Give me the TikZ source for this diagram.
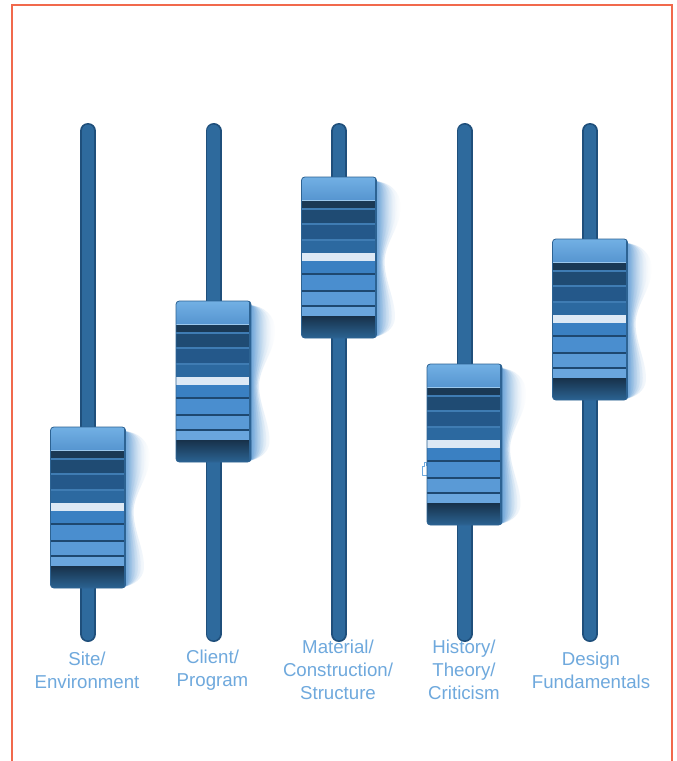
\documentclass[tikz,border=0pt]{standalone}
\usepackage{fontspec}
\setmainfont{Liberation Sans}
\usetikzlibrary{fadings}

% palette
\definecolor{frameRed}{HTML}{F1694C}
\definecolor{trackEdge}{HTML}{1F4F7B}
\definecolor{trackFill}{HTML}{2E6A9D}
\definecolor{labelBlue}{HTML}{6FA9DD}
\definecolor{capTop}{HTML}{72B0E4}
\definecolor{capBot}{HTML}{5594CF}
\definecolor{bandK}{HTML}{1A3955}
\definecolor{bandA}{HTML}{1F4B73}
\definecolor{bandB}{HTML}{24588A}
\definecolor{bandC}{HTML}{2C69A0}
\definecolor{bandW}{HTML}{DDE9F5}
\definecolor{bandD}{HTML}{3A80C2}
\definecolor{bandE}{HTML}{4A8ECF}
\definecolor{bandF}{HTML}{5A9AD6}
\definecolor{bandG}{HTML}{6AA6DE}
\definecolor{sepLight}{HTML}{3F7CB3}
\definecolor{sepDark}{HTML}{1E4870}
\definecolor{baseTop}{HTML}{17314A}
\definecolor{baseBot}{HTML}{2B6392}
\definecolor{knobEdge}{HTML}{2D6393}
\definecolor{glowBlue}{HTML}{5294D2}

\tikzset{
  track/.style={line cap=round},
  caption/.style={font=\fontsize{14pt}{17.25pt}\selectfont, text=labelBlue,
    align=center, inner sep=0pt},
  % a slider knob; origin at the centre of its top edge, 75 x 161 units
  knob/.pic={
    % soft glow on the right-hand side, built from stacked faded layers
    \foreach \s in {1.15,0.95,0.78,0.6,0.42,0.25} {
      \begin{scope}[shift={(37.5,0)}, xscale=\s]
        \fill[glowBlue, opacity=0.26, path fading=east]
          (-2,4) .. controls (12,5) and (21,15) .. (21,30)
          .. controls (21,50) and (7,66) .. (7,85)
          .. controls (7,104) and (17,124) .. (16,142)
          .. controls (15,152) and (7,158) .. (-2,160) -- cycle;
      \end{scope}
    }
    \begin{scope}
      \clip[rounded corners=2.5] (-37.5,0) rectangle (37.5,161);
      \shade[top color=capTop, bottom color=capBot] (-37.5,0) rectangle (37.5,24);
      \fill[capTop!70!white] (-37.5,22.5) rectangle (37.5,24);
      \fill[bandK] (-37.5,24) rectangle (37.5,31);
      \fill[sepLight] (-37.5,31) rectangle (37.5,32.5);
      \fill[bandA] (-37.5,32.5) rectangle (37.5,46);
      \fill[sepLight] (-37.5,46) rectangle (37.5,47.5);
      \fill[bandB] (-37.5,47.5) rectangle (37.5,62);
      \fill[sepLight] (-37.5,62) rectangle (37.5,63.5);
      \fill[bandC] (-37.5,63.5) rectangle (37.5,76);
      \fill[bandW] (-37.5,76) rectangle (37.5,83.5);
      \fill[bandD] (-37.5,83.5) rectangle (37.5,96);
      \fill[sepDark] (-37.5,96) rectangle (37.5,98);
      \fill[bandE] (-37.5,98) rectangle (37.5,113);
      \fill[sepDark] (-37.5,113) rectangle (37.5,115);
      \fill[bandF] (-37.5,115) rectangle (37.5,128);
      \fill[sepDark] (-37.5,128) rectangle (37.5,130);
      \fill[bandG] (-37.5,130) rectangle (37.5,139);
      \shade[top color=baseTop, bottom color=baseBot] (-37.5,139) rectangle (37.5,161);
      \fill[knobEdge] (35.5,0) rectangle (37.5,161);
    \end{scope}
    \draw[knobEdge, line width=0.6pt, rounded corners=2.5] (-37.5,0) rectangle (37.5,161);
  }
}

\begin{document}
\begin{tikzpicture}[x=0.75pt, y=-0.75pt]
  \useasboundingbox (0,0) rectangle (676,761);
  \fill[white] (0,0) rectangle (676,761);

  % open frame (no bottom edge)
  \draw[frameRed, line width=1pt] (12,761) -- (12,5) -- (672,5) -- (672,761);

  % slider tracks
  \foreach \x/\n in {88/1, 213.5/2, 339/3, 464.5/4, 590/5} {
    \coordinate (t\n top) at (\x,131);
    \coordinate (t\n bot) at (\x,634);
    \draw[track, trackEdge, line width=12pt] (t\n top) -- (t\n bot);
    \draw[track, trackFill, line width=9.5pt] (t\n top) -- (t\n bot);
  }

  % small pointer outline beside the fourth knob
  \draw[labelBlue, line width=0.6pt, line join=round]
    (427,475) -- (422,475) -- (422,466) -- (424,466) -- (424,462)
    -- (426.5,462) -- (426.5,466);

  % knobs
  \pic at (88,427)   {knob};
  \pic at (213.5,301) {knob};
  \pic at (339,177)  {knob};
  \pic at (464.5,364) {knob};
  \pic at (590,239)  {knob};

  % captions
  \node[caption] (c1) at (87,670)  {Site/\\Environment};
  \node[caption] (c2) at (212.5,670) {Client/\\Program};
  \node[caption] (c3) at (338,670) {Material/\\Construction/\\Structure};
  \node[caption] (c4) at (464,670) {History/\\Theory/\\Criticism};
  \node[caption] (c5) at (591,670) {Design\\Fundamentals};
\end{tikzpicture}
\end{document}
